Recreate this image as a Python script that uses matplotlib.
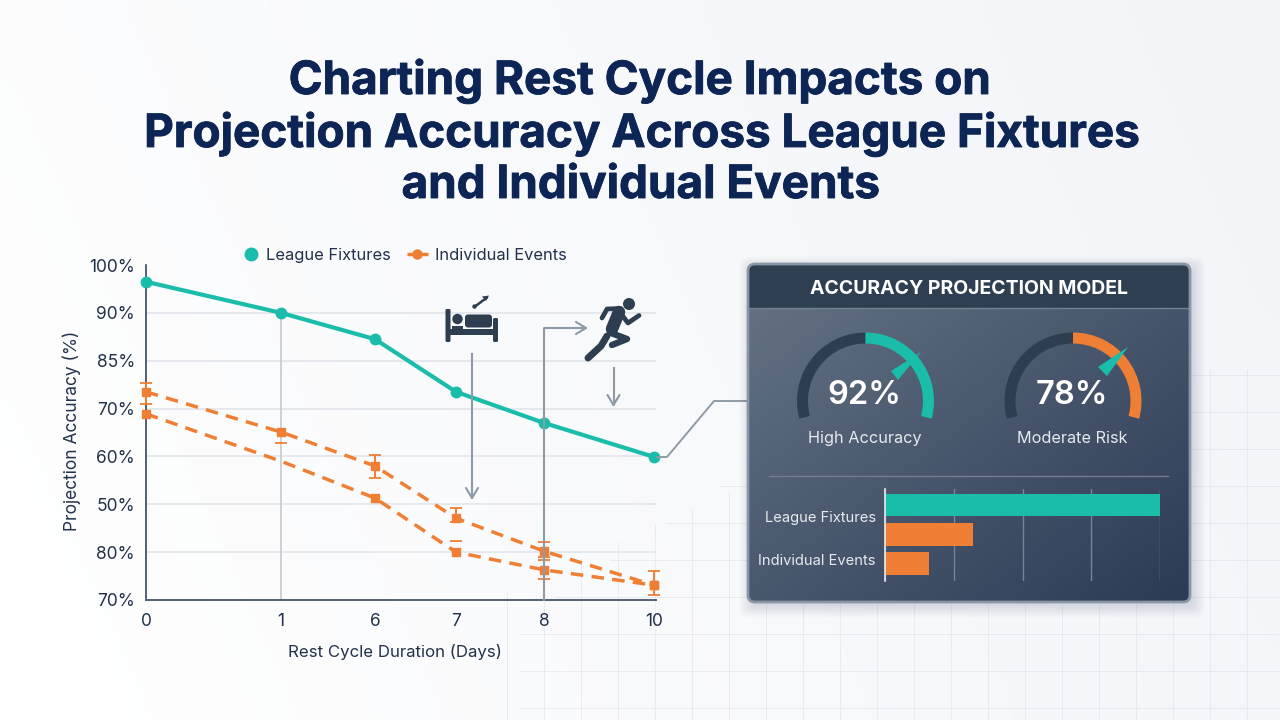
import matplotlib
matplotlib.use("Agg")
import matplotlib.pyplot as plt
import matplotlib.patheffects as pe
import numpy as np
from matplotlib.patches import FancyBboxPatch, Wedge, Polygon, Circle, Rectangle

plt.rcParams['font.family'] = ['Inter', 'DejaVu Sans']

# main chart: the axis is not to scale, so values are slot positions on it
x_labels = ["0", "1", "6", "7", "8", "10"]
x_slots = [0, 135, 229, 310, 398, 508]
y_labels = ["70%", "80%", "50%", "60%", "70%", "85%", "90%", "100%"]
y_slots = [0, 1, 2, 3, 4, 5, 6, 7]

league = [6.65, 6.0, 5.45, 4.35, 3.7, 2.99]
events_a = [4.35, 3.51, 2.8, 1.71, 1.02, 0.31]
events_b = [3.89, 2.9, 2.13, 1.0, 0.63, 0.31]
events_a_down = [0.25, 0.23, 0.25, 0.08, 0.12, 0.21]
events_a_up = [0.18, np.nan, 0.23, 0.21, 0.19, 0.3]
events_b_down = [np.nan, np.nan, np.nan, np.nan, 0.19, np.nan]
events_b_up = [np.nan, np.nan, np.nan, 0.23, 0.21, np.nan]

# panel
gauge_values = ["92%", "78%"]
gauge_names = ["High Accuracy", "Moderate Risk"]
bar_values = [100, 32, 16]
bar_ticks = [0, 25, 50, 75, 100]

TEAL = "#1abcaa"
ORANGE = "#ef7f35"
NAVY = "#0c2555"
SLATE = "#2c3e50"
TEXT = "#22324a"
GREY = "#8e9aa6"
W, H = 1280, 720

fig = plt.figure(figsize=(12.8, 7.2), dpi=100)


def px_axes(x0, y0, x1, y1, **kw):
    return fig.add_axes([x0 / W, 1 - y1 / H, (x1 - x0) / W, (y1 - y0) / H], **kw)


# overlay in pixel coords for background, panel, icons
bg = px_axes(0, 0, W, H, zorder=0)
bg.set_xlim(0, W)
bg.set_ylim(H, 0)
bg.axis("off")

xx, yy = np.meshgrid(np.linspace(0, 1, 64), np.linspace(0, 1, 36))
t_bg = np.clip(0.8 * xx + 0.2 * (1 - yy), 0, 1)[..., None]
bg_rgb = (1 - t_bg) * np.array([1.0, 1.0, 1.0]) + t_bg * np.array([0xf2, 0xf4, 0xf8]) / 255
bg.imshow(bg_rgb, extent=(0, W, H, 0), aspect="auto", interpolation="bicubic")

# faint grid bottom right
for gx in range(507, W, 37):
    top = 370 + max(0, 1000 - gx) * 0.45
    bg.plot([gx, gx], [top, H], color="#d5dbe3", lw=0.7, alpha=0.45)
for gy in range(375, H, 37):
    left = 520 + max(0, 620 - gy) * 1.5
    bg.plot([left, W], [gy, gy], color="#d5dbe3", lw=0.7, alpha=0.45)

title_lines = [(640, 81, "Charting Rest Cycle Impacts on"),
               (642, 134, "Projection Accuracy Across League Fixtures"),
               (641, 186, "and Individual Events")]
for tx, ty, line in title_lines:
    fig.text(tx / W, 1 - ty / H, line, ha="center", va="center", fontsize=33, fontweight="bold", color=NAVY,
             path_effects=[pe.withStroke(linewidth=0.6, foreground=NAVY)])

# main chart
ax = px_axes(146, 265, 656, 600, zorder=1)
ax.patch.set_alpha(0)
ax.set_xlim(0, 510)
ax.set_ylim(0, 7)
for s in ["top", "right"]:
    ax.spines[s].set_visible(False)
ax.spines["left"].set_color("#34465c")
ax.spines["bottom"].set_color("#55626f")
ax.spines["left"].set_linewidth(1.2)
ax.spines["bottom"].set_linewidth(1.4)
ax.set_xticks(x_slots, x_labels)
ax.set_yticks(y_slots, y_labels)
ax.tick_params(length=0, labelsize=12.5, labelcolor=TEXT, pad=9)
ax.tick_params(axis="y", pad=8)
for s in y_slots[1:-1]:
    ax.axhline(s, color="#dfe3e9", lw=1.1, zorder=1)
ax.plot([x_slots[1], x_slots[1]], [0, 6], color="#c8ced6", lw=1.3, zorder=1)

ax.plot(x_slots, league, color=TEAL, lw=3, marker="o", ms=7.5, zorder=5, clip_on=False)
ax.plot(x_slots, events_a, color=ORANGE, lw=2.5, ls=(0, (3.6, 2.4)), zorder=4, clip_on=False)
ax.plot(x_slots, events_b, color=ORANGE, lw=2.5, ls=(0, (3.6, 2.4)), zorder=4, clip_on=False)
ax.errorbar(x_slots, events_a, yerr=[events_a_down, events_a_up], fmt="s", ms=5.5, color=ORANGE,
            elinewidth=1.4, capsize=4.5, capthick=1.3, zorder=4, clip_on=False)
show = [0, 2, 3, 4, 5]
ax.errorbar(np.array(x_slots)[show], np.array(events_b)[show],
            yerr=[np.array(events_b_down)[show], np.array(events_b_up)[show]],
            fmt="s", ms=5.5, color=ORANGE, elinewidth=1.4, capsize=4.5, capthick=1.3, zorder=4, clip_on=False)

fig.text(395 / W, 1 - 652.5 / H, "Rest Cycle Duration (Days)", ha="center", va="center",
         fontsize=12.1, color=TEXT)
fig.text(72 / W, 1 - 431 / H, "Projection Accuracy (%)", ha="center", va="center",
         rotation=90, fontsize=12.5, color=TEXT)

# legend
top = px_axes(0, 0, W, H, zorder=2)
top.set_xlim(0, W)
top.set_ylim(H, 0)
top.axis("off")
top.plot([251], [254], "o", color=TEAL, ms=9)
top.text(266, 255.5, "League Fixtures", va="center", fontsize=11.9, color=TEXT)
top.plot([407, 428], [254, 254], color=ORANGE, lw=2.5, ls=(0, (3, 1)))
top.plot([417], [254], "o", color=ORANGE, ms=6.5)
top.text(435, 255.5, "Individual Events", va="center", fontsize=11.9, color=TEXT)


def chevron(x, y, dx, dy, back=10, side=6):
    # open arrow head pointing along (dx, dy)
    px, py = -dy, dx
    for sgn in (-1, 1):
        top.plot([x, x - dx * back + sgn * px * side], [y, y - dy * back + sgn * py * side],
                 color=GREY, lw=1.5, solid_capstyle="round", zorder=3)


top.plot([472, 472], [354, 497], color=GREY, lw=1.5, zorder=3)
chevron(472, 498, 0, 1)
top.plot([544, 544, 585], [600, 328, 328], color=GREY, lw=1.5, zorder=3)
chevron(586, 328, 1, 0)
top.plot([613.5, 613.5], [368, 404], color=GREY, lw=1.5, zorder=3)
chevron(613.5, 405, 0, 1)
top.plot([657, 667, 714, 748], [457, 457, 401, 401], color=GREY, lw=1.4, zorder=1)

# bed icon
top.add_patch(FancyBboxPatch((445.5, 309), 5, 33, boxstyle="round,pad=0,rounding_size=1.5", fc=SLATE, ec="none"))
top.add_patch(FancyBboxPatch((493, 318), 5, 24, boxstyle="round,pad=0,rounding_size=1.5", fc=SLATE, ec="none"))
top.add_patch(Rectangle((450, 329), 44, 6, fc=SLATE, ec="none"))
top.add_patch(Circle((457.5, 319), 5.2, fc=SLATE, ec="none"))
top.add_patch(FancyBboxPatch((465, 314.5), 27, 13, boxstyle="round,pad=0,rounding_size=3", fc=SLATE, ec="none"))
top.add_patch(Rectangle((452, 325.5), 11, 4, fc=SLATE, ec="none"))
top.plot([475, 487], [306.5, 297.5], color=SLATE, lw=1.8, solid_capstyle="round")
top.add_patch(Polygon([[489, 295.5], [482, 296.5], [486, 301]], fc=SLATE, ec="none"))
top.add_patch(Circle((474.5, 306.5), 2.2, fc=SLATE, ec="none"))

# runner icon
top.add_patch(Circle((629, 304), 6, fc=SLATE, ec="none"))


def limb(xs, ys, w):
    top.plot(xs, ys, color=SLATE, lw=w, solid_capstyle="round", solid_joinstyle="round")


limb([619, 612], [312, 329], 9)
limb([602, 607, 620], [318, 309, 308.5], 3.4)
limb([622, 628, 639], [315, 323, 315.5], 3.4)
limb([611, 627, 612], [333, 339, 345], 4.6)
limb([607, 601, 588], [336, 346, 358], 5)

# panel
for i in range(8):
    top.add_patch(FancyBboxPatch((748 + 3, 264 + 4), 442, 338,
                                 boxstyle=f"round,pad={i * 1.6},rounding_size=8",
                                 fc="#50607a", ec="none", alpha=0.022, zorder=4))
panel = FancyBboxPatch((748, 264), 442, 338, boxstyle="round,pad=0,rounding_size=7",
                       fc="none", ec="none", zorder=5)
top.add_patch(panel)
px, py = np.meshgrid(np.linspace(0, 1, 64), np.linspace(0, 1, 64))
t = np.clip(0.5 * px + 0.5 * py, 0, 1)[..., None]
grad = (1 - t) * np.array([0x66, 0x74, 0x85]) / 255 + t * np.array([0x2c, 0x3b, 0x55]) / 255
im = top.imshow(grad, extent=(748, 1190, 602, 264), aspect="auto", zorder=5, interpolation="bicubic")
im.set_clip_path(panel)
top.set_xlim(0, W)
top.set_ylim(H, 0)
header = Rectangle((748, 264), 442, 44, fc="#2e3f52", ec="none", zorder=6)
top.add_patch(header)
header.set_clip_path(panel)
top.plot([748, 1190], [308, 308], color="#73818f", lw=1, zorder=6)
top.add_patch(FancyBboxPatch((748, 264), 442, 338, boxstyle="round,pad=0,rounding_size=7",
                             fc="none", ec="#8996a5", lw=2, zorder=7))
top.text(969, 288.5, "ACCURACY PROJECTION MODEL", ha="center", va="center", fontsize=14,
         fontweight="bold", color="white", zorder=8)

# y axis is flipped here, so wedge angles are mirrored
gauges = [(865.5, 401, TEAL, [[891, 371], [898, 380], [921, 352]]),
          (1073, 401, ORANGE, [[1098, 367], [1107, 376], [1128, 347]])]
for (cx, cy, col, needle), val, name in zip(gauges, gauge_values, gauge_names):
    top.add_patch(Wedge((cx, cy), 68.5, 165, 270, width=11, fc=SLATE, ec="none", zorder=8))
    top.add_patch(Wedge((cx, cy), 68.5, 270, 375, width=11, fc=col, ec="none", zorder=8))
    top.add_patch(Polygon(needle, fc=TEAL, ec="none", zorder=9))
    top.text(cx - 1, 395, val, ha="center", va="center", fontsize=23.5, fontweight="semibold",
             color="white", zorder=9)
    top.text(cx - 1, 438.5, name, ha="center", va="center", fontsize=11.7, color="#e6eaee", zorder=9)

top.plot([769, 1168], [476, 476], color="#6f7d8f", lw=1, zorder=8)

# mini bars
mini = px_axes(885, 489, 1160, 581, zorder=3)
mini.patch.set_alpha(0)
mini.set_xlim(0, 100)
mini.set_ylim(2.6, -0.55)
for s in ["top", "right", "bottom"]:
    mini.spines[s].set_visible(False)
mini.spines["left"].set_color("#e8ecef")
mini.spines["left"].set_linewidth(1.2)
mini.set_xticks(bar_ticks, [""] * len(bar_ticks))
mini.set_yticks([0.38, 1.88], ["League Fixtures", "Individual Events"])
mini.tick_params(length=0, labelsize=10.6, labelcolor="#e6eaee", pad=6.5)
mini.grid(axis="x", color="#76849a", lw=1)
mini.set_axisbelow(True)
mini.barh([0, 1, 2], bar_values, height=0.77, color=[TEAL, ORANGE, ORANGE], clip_on=False)

fig.savefig("out.png", dpi=100)
